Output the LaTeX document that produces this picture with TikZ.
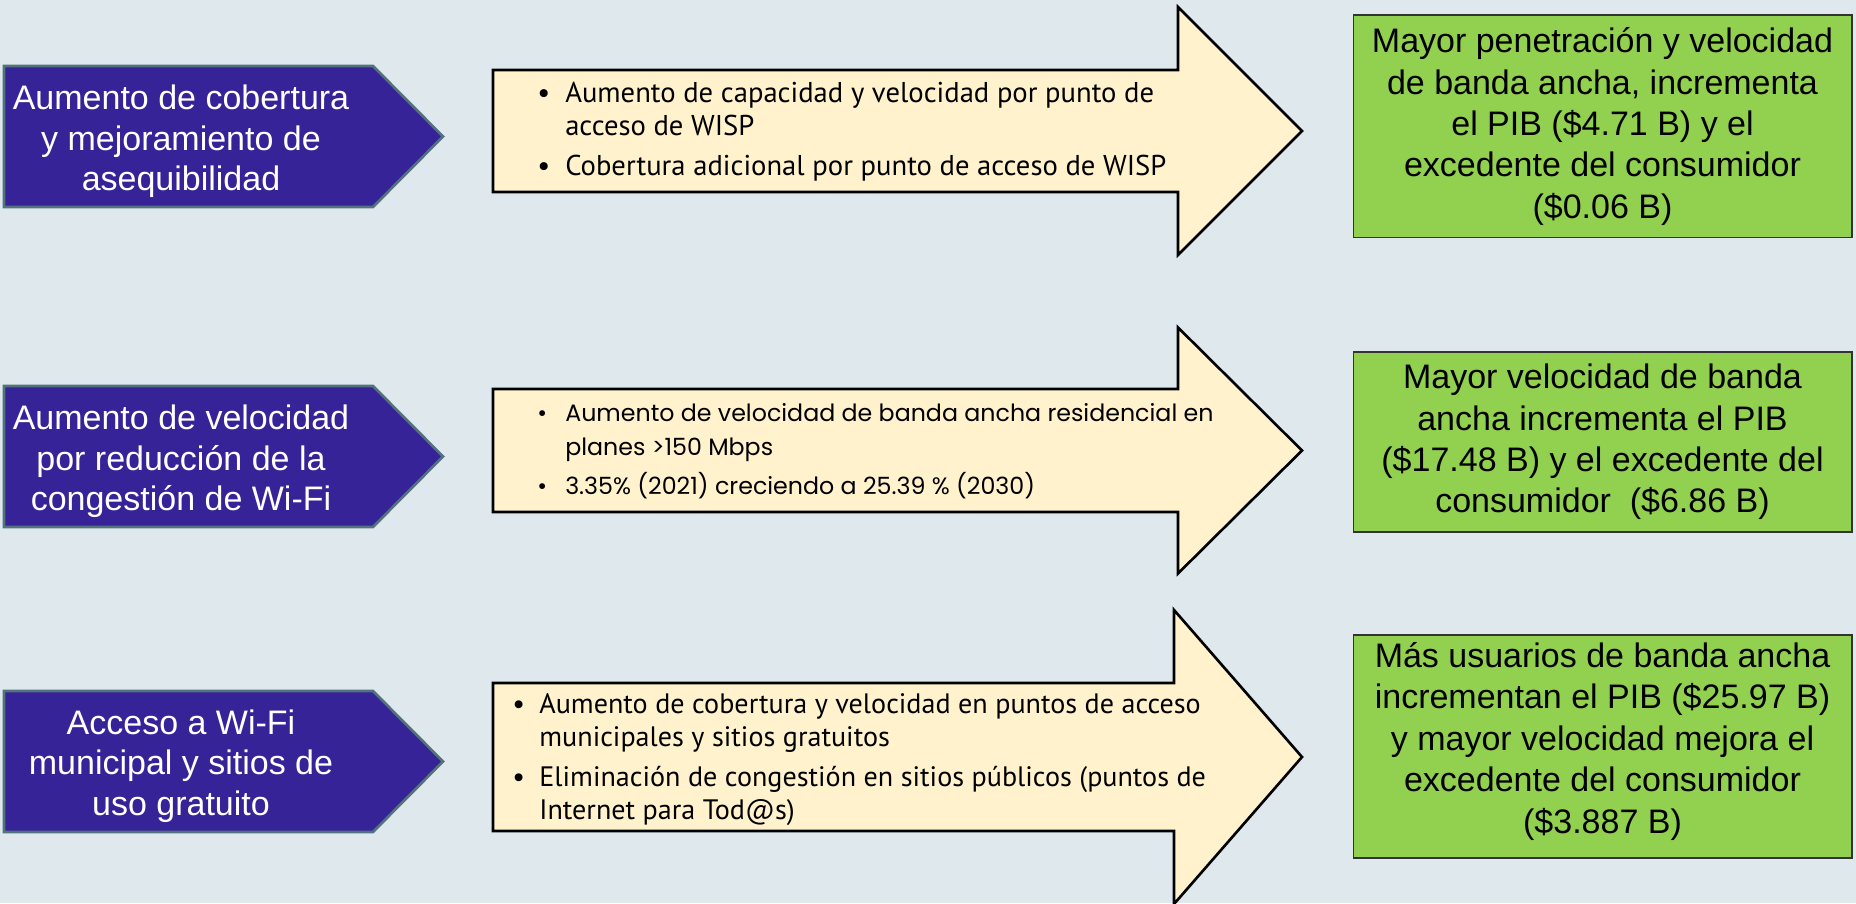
\documentclass[tikz,border=0pt]{standalone}
\usepackage{fontspec}
\setmainfont{Liberation Sans}
\newfontfamily\twcenfont{PT Sans}
\newfontfamily\gothicfont{Poppins}
\usepackage{xcolor}
\definecolor{cBack}{RGB}{223,233,237}
\definecolor{cIndigo}{RGB}{55,35,152}
\definecolor{cSlate}{RGB}{82,114,126}
\definecolor{cCream}{RGB}{255,242,204}
\definecolor{cLime}{RGB}{146,208,80}
\tikzset{
  causeshape/.style={draw=cSlate,fill=cIndigo,line width=1.5pt},
  causetext/.style={text=white,align=center,inner sep=0pt,
                    font=\fontsize{19.35}{23.1}\selectfont},
  flowshape/.style={draw=black,fill=cCream,line width=1.5pt},
  flowtext/.style={anchor=west,inner sep=0pt,align=left},
  narrowtext/.style={flowtext,font=\twcenfont\fontsize{16.3}{19}\selectfont},
  widetext/.style={flowtext,font=\gothicfont\fontsize{13.5}{19}\selectfont},
  resultbox/.style={rectangle,draw=black!80,fill=cLime,line width=0.6pt,
                    minimum width=9.98cm,align=center,inner sep=0pt,
                    font=\fontsize{19.35}{23.6}\selectfont}
}

\begin{document}
\begin{tikzpicture}[x=0.02cm,y=0.02cm]
  \fill[cBack,use as bounding box] (0,0) rectangle (1856,903);

  \foreach \yc in {766.5,446.5,141.5}
    \draw[causeshape] (4,\yc+70.5) -- (373,\yc+70.5) -- (443,\yc)
      -- (373,\yc-70.5) -- (4,\yc-70.5) -- cycle;

  \foreach \yc/\bh/\hh/\hx in {772/61/124/1178,452.5/61.5/123/1178,146/74/147/1174}
    \draw[flowshape] (493,\yc+\bh) -- (\hx,\yc+\bh) -- (\hx,\yc+\hh) -- (1302,\yc)
      -- (\hx,\yc-\hh) -- (\hx,\yc-\bh) -- (493,\yc-\bh) -- cycle;

  \node[causetext] (c1) at (181,761.5)
      {Aumento de cobertura\\y mejoramiento de\\asequibilidad};
  \node[causetext] (c2) at (181,441.5)
      {Aumento de velocidad\\por reducción de la\\congestión de Wi-Fi};
  \node[causetext] (c3) at (181,137)
      {Acceso a Wi-Fi\\municipal y sitios de\\uso gratuito};

  \node[narrowtext] (f1) at (537,771)
      {\begin{tabular}{@{}p{15.9pt}@{}l@{}}
       \textbullet & Aumento de capacidad y velocidad por punto de\\
                   & acceso de WISP\\[3.4pt]
       \textbullet & Cobertura adicional por punto de acceso de WISP
       \end{tabular}};
  \node[widetext] (f2) at (537,451.5)
      {\begin{tabular}{@{}p{15.9pt}@{}l@{}}
       \textbullet & Aumento de velocidad de banda ancha residencial en\\
                   & planes >150 Mbps\\[3.4pt]
       \textbullet & 3.35\% (2021) creciendo a 25.39 \% (2030)
       \end{tabular}};
  \node[narrowtext,font=\twcenfont\fontsize{16}{19}\selectfont] (f3) at (512,143)
      {\begin{tabular}{@{}p{15.4pt}@{}l@{}}
       \textbullet & Aumento de cobertura y velocidad en puntos de acceso\\
                   & municipales y sitios gratuitos\\[3.4pt]
       \textbullet & Eliminación de congestión en sitios públicos (puntos de\\
                   & Internet para Tod@s)
       \end{tabular}};

  \node[resultbox,minimum height=4.46cm] (r1) at (1602.5,776.5)
      {Mayor penetración y velocidad\\de banda ancha, incrementa\\el PIB (\$4.71 B) y el\\
       excedente del consumidor\\(\$0.06 B)};
  \node[resultbox,minimum height=3.6cm] (r2) at (1602.5,461)
      {Mayor velocidad de banda\\ancha incrementa el PIB\\(\$17.48 B) y el excedente del\\
       consumidor~ (\$6.86 B)};
  \node[resultbox,minimum height=4.46cm,text depth=9.8pt] (r3) at (1602.5,156.5)
      {Más usuarios de banda ancha\\incrementan el PIB (\$25.97 B)\\y mayor velocidad mejora el\\
       excedente del consumidor\\(\$3.887 B)};
\end{tikzpicture}
\end{document}
